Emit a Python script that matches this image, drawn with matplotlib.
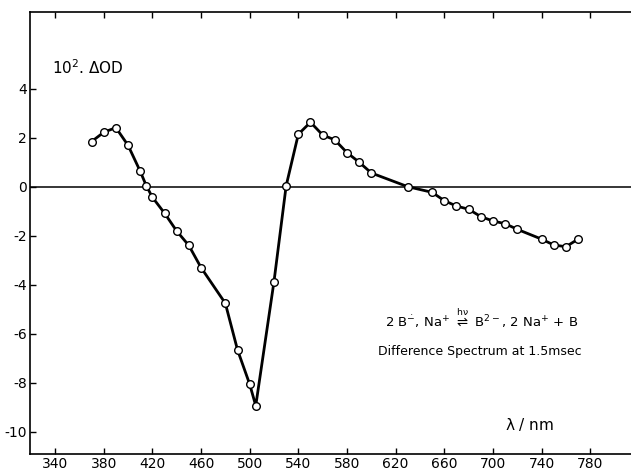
import matplotlib
matplotlib.use("Agg")
import matplotlib.pyplot as plt

plt.rcParams["mathtext.default"] = "regular"

# data (wavelength nm, 10^2 * delta OD)
wavelength = [370, 380, 390, 400, 410, 415, 420, 430, 440, 450, 460, 480, 490,
              500, 505, 520, 530, 540, 550, 560, 570, 580, 590, 600, 630, 650,
              660, 670, 680, 690, 700, 710, 720, 740, 750, 760, 770]
delta_od = [1.85, 2.23, 2.42, 1.70, 0.64, 0.05, -0.42, -1.07, -1.80, -2.39, -3.29,
            -4.75, -6.65, -8.05, -8.93, -3.86, 0.05, 2.15, 2.64, 2.12, 1.92, 1.40,
            1.01, 0.57, 0.01, -0.22, -0.56, -0.78, -0.91, -1.21, -1.39, -1.50,
            -1.73, -2.13, -2.37, -2.44, -2.13]

xticks = [340, 380, 420, 460, 500, 540, 580, 620, 660, 700, 740, 780]
xtick_labels = [str(v) for v in xticks]
yticks = [4, 2, 0, -2, -4, -6, -8, -10]
ytick_labels = ["4", "2", "0", "-2", "-4", "-6", "-8", "-10"]

fig = plt.figure(figsize=(6.31, 4.71), dpi=100)
ax = fig.add_axes([30/631, 1-454/471, 1-30/631, (454-12)/471])

ax.axhline(0, color="black", lw=1.1, zorder=1)
ax.plot(wavelength, delta_od, color="black", lw=2.0, zorder=2)
ax.plot(wavelength, delta_od, ls="none", marker="o", ms=5.5, mfc="white",
        mec="black", mew=1.0, zorder=3)

ax.set_xlim(319.4, 813.5)
ax.set_ylim(-10.9, 7.14)
ax.set_xticks(xticks)
ax.set_xticklabels(xtick_labels)
ax.set_yticks(yticks)
ax.set_yticklabels(ytick_labels)
ax.tick_params(axis="both", direction="in", length=4, width=1, labelsize=10,
               pad=2, top=True)
ax.spines["right"].set_visible(False)
for s in ["left", "top", "bottom"]:
    ax.spines[s].set_linewidth(1.2)

ax.text(337.5, 4.86, r"10$^{2}$. $\Delta$OD", fontsize=11, ha="left", va="center")
ax.text(710, -9.71, r"$\lambda$ / nm", fontsize=11, ha="left", va="center")
ax.text(691, -5.35,
        r"2 B$^{\dot{-}}$, Na$^{+}$ $\overset{h\nu}{\rightleftharpoons}$ B$^{2-}$, 2 Na$^{+}$ + B",
        fontsize=9.5, ha="center", va="center")
ax.text(689, -6.73, "Difference Spectrum at 1.5msec", fontsize=9,
        ha="center", va="center")

fig.savefig("out.png", dpi=100)
